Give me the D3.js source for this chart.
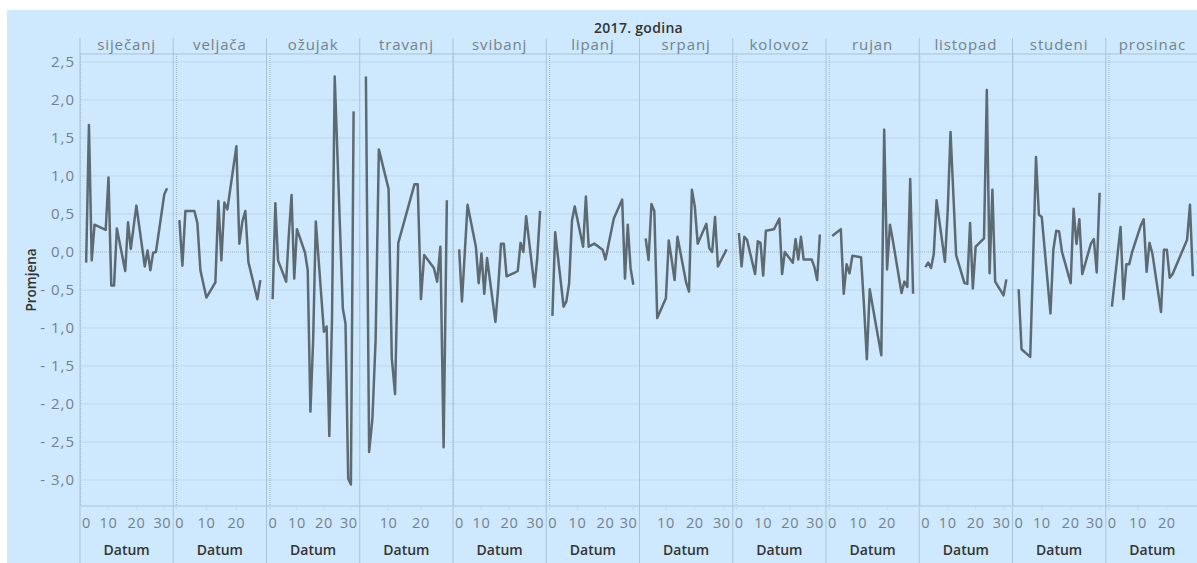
<!DOCTYPE html>
<html><head><meta charset="utf-8">
<script src="https://cdn.jsdelivr.net/npm/d3@7"></script>
<style>
html,body{margin:0;padding:0;background:#fff;}
svg{display:block;font-family:"Open Sans","Noto Sans",sans-serif;}
</style></head>
<body>
<script>
const months = ["siječanj","veljača","ožujak","travanj","svibanj","lipanj","srpanj","kolovoz","rujan","listopad","studeni","prosinac"];
const jan = {days:[2,3,4,5,9,10,11,12,13,16,17,18,19,20,23,24,25,26,27,30,31],
  vals:[-0.14,1.67,-0.11,0.36,0.29,0.98,-0.44,-0.44,0.31,-0.25,0.39,0.04,0.33,0.61,-0.19,0.02,-0.24,-0.01,0.0,0.76,0.84]};
const feb = {days:[1,2,3,6,7,8,9,10,13,14,15,16,17,20,21,22,23,24,27,28],
  vals:[0.42,-0.18,0.54,0.54,0.38,-0.24,-0.42,-0.60,-0.40,0.67,-0.11,0.65,0.56,1.39,0.11,0.40,0.54,-0.13,-0.62,-0.37]};
const mar = {days:[1,2,3,6,7,8,9,10,13,14,15,16,17,20,21,22,23,24,27,28,29,30,31],
  vals:[-0.62,0.64,-0.11,-0.39,0.23,0.75,-0.35,0.30,-0.01,-0.24,-2.10,-1.17,0.40,-1.05,-0.98,-2.42,-0.88,2.31,-0.74,-0.94,-2.98,-3.06,1.85]};
const apr = {days:[3,4,5,6,7,10,11,12,13,18,19,20,21,24,25,26,27,28],
  vals:[2.31,-2.63,-2.2,-1.16,1.35,0.83,-1.40,-1.87,0.12,0.89,0.89,-0.62,-0.04,-0.21,-0.39,0.07,-2.57,0.68]};
const may = {days:[2,3,4,5,8,9,10,11,12,15,16,17,18,19,22,23,24,25,26,29,30,31],
  vals:[0.035,-0.65,-0.02,0.62,0.07,-0.41,-0.02,-0.55,-0.08,-0.92,-0.46,0.11,0.11,-0.32,-0.27,-0.25,0.12,0.0,0.47,-0.46,-0.07,0.54]};
const jun = {days:[1,2,5,6,7,8,9,12,13,14,16,19,20,21,23,26,27,28,29,30],
  vals:[-0.84,0.26,-0.72,-0.65,-0.41,0.41,0.60,0.07,0.73,0.07,0.11,0.03,-0.10,0.08,0.44,0.69,-0.35,0.36,-0.21,-0.43]};
const jul = {days:[3,4,5,6,7,10,11,12,13,14,17,18,19,20,21,24,25,26,27,28,31],
  vals:[0.18,-0.105,0.63,0.54,-0.87,-0.61,0.15,-0.1,-0.37,0.20,-0.40,-0.52,0.82,0.60,0.11,0.37,0.05,0.0,0.46,-0.19,0.035]};
const aug = {days:[1,2,3,4,7,8,9,10,11,14,16,17,18,21,22,23,24,25,28,29,30,31],
  vals:[0.25,-0.19,0.20,0.16,-0.29,0.14,0.12,-0.31,0.28,0.30,0.44,-0.29,0.0,-0.14,0.17,-0.10,0.20,-0.10,-0.10,-0.20,-0.37,0.23]};
const sep = {days:[1,4,5,6,7,8,11,12,13,14,15,18,19,20,21,22,25,26,27,28,29],
  vals:[0.21,0.30,-0.55,-0.16,-0.28,-0.05,-0.07,-0.7,-1.41,-0.49,-0.71,-1.36,1.61,-0.23,0.36,0.15,-0.54,-0.39,-0.46,0.96,-0.55]};
const oct = {days:[2,3,4,5,6,9,10,11,12,13,16,17,18,19,20,23,24,25,26,27,30,31],
  vals:[-0.20,-0.14,-0.21,-0.03,0.68,-0.13,0.55,1.58,0.77,-0.04,-0.41,-0.42,0.38,-0.48,0.07,0.18,2.13,-0.28,0.82,-0.39,-0.57,-0.36]};
const nov = {days:[2,3,6,7,8,9,10,13,14,15,16,17,20,21,22,23,24,27,28,29,30],
  vals:[-0.49,-1.28,-1.38,-0.11,1.25,0.49,0.46,-0.81,0.03,0.28,0.27,0.0,-0.41,0.57,0.105,0.43,-0.29,0.11,0.17,-0.27,0.78]};
const dec = {days:[1,4,5,6,7,8,11,12,13,14,15,18,19,20,21,22,27,28,29],
  vals:[-0.72,0.33,-0.62,-0.16,-0.16,0.0,0.35,0.43,-0.26,0.12,-0.02,-0.79,0.03,0.03,-0.34,-0.29,0.16,0.62,-0.32]};
const series = [jan,feb,mar,apr,may,jun,jul,aug,sep,oct,nov,dec];
const yTicks = [2.5,2.0,1.5,1.0,0.5,0.0,-0.5,-1.0,-1.5,-2.0,-2.5,-3.0];
const xTicks = [0,10,20,30];
const title = "2017. godina";
const yTitle = "Promjena";
const xTitle = "Datum";

(function(){
const W = 1197, H = 563;
const pL = 80, pR = 1199, pT = 54, pB = 506, headTop = 38;
const pw = (pR-pL)/months.length;
const bgCol = "#cee9fd", gridCol = "#bcd9f0", sepCol = "#a9c3d7", grey = "#74818b", dark = "#333";

const svg = d3.select("body").append("svg").attr("width",W).attr("height",H);
svg.append("rect").attr("x",7).attr("y",10).attr("width",W-7).attr("height",H-10).attr("fill",bgCol);

const y = d3.scaleLinear().domain([-3.342,2.605]).range([pB,pT]);

svg.append("g").selectAll("line").data(yTicks.filter(v=>v!==0)).join("line")
  .attr("x1",pL).attr("x2",W).attr("y1",d=>y(d)).attr("y2",d=>y(d))
  .attr("stroke",gridCol).attr("stroke-width",1);
svg.append("line").attr("x1",pL).attr("x2",W).attr("y1",y(0)).attr("y2",y(0))
  .attr("stroke","#9fb6c8").attr("stroke-width",1).attr("stroke-dasharray","1,1");

const fmt = v => (v<0?"- ":"") + Math.abs(v).toFixed(1).replace(".",",");
svg.append("g").selectAll("text").data(yTicks).join("text")
  .attr("x",75).attr("y",d=>y(d)).attr("dy","0.35em").attr("text-anchor","end")
  .attr("font-size",15).attr("letter-spacing","1px").attr("fill",grey).text(fmt);

svg.append("text").attr("transform",`translate(31,${(pT+pB)/2}) rotate(-90)`)
  .attr("text-anchor","middle").attr("dy","0.35em").attr("font-size",13.5).attr("font-weight",600)
  .attr("fill",dark).text(yTitle);

svg.append("text").attr("x",(pL+pR)/2 - 1).attr("y",28).attr("dy","0.35em").attr("text-anchor","middle")
  .attr("font-size",14).attr("font-weight",600).attr("letter-spacing","0.3px").attr("fill",dark).text(title);

svg.append("line").attr("x1",pL).attr("x2",W).attr("y1",pT).attr("y2",pT).attr("stroke",sepCol);
svg.append("line").attr("x1",pL).attr("x2",W).attr("y1",pB).attr("y2",pB).attr("stroke",sepCol);

const line = d3.line();

months.forEach((m,i) => {
  const x0 = pL + i*pw, x1 = x0 + pw;
  const s = series[i];
  const mn = d3.min(s.days), mx = d3.max(s.days), pad = 0.076*(mx-mn);
  const x = d3.scaleLinear().domain([mn-pad, mx+pad]).range([x0,x1]);
  const g = svg.append("g");
  if (x.domain()[0] < 0) {
    g.append("line").attr("x1",x(0)).attr("x2",x(0)).attr("y1",pT).attr("y2",pB)
      .attr("stroke","#9fb6c8").attr("stroke-dasharray","1,1");
  }
  g.append("line").attr("x1",x0).attr("x2",x0).attr("y1",headTop).attr("y2",H).attr("stroke",sepCol);
  g.append("text").attr("x",(x0+x1)/2).attr("y",45).attr("dy","0.35em").attr("text-anchor","middle")
    .attr("font-size",15).attr("letter-spacing","0.9px").attr("fill",grey).text(m);
  const tks = xTicks.filter(t => t>=x.domain()[0] && x(t) <= x1 - 4.5);
  g.selectAll(".tk").data(tks).join("line").attr("class","tk")
    .attr("x1",d=>x(d)).attr("x2",d=>x(d)).attr("y1",pB).attr("y2",pB+4).attr("stroke",gridCol);
  g.selectAll(".tl").data(tks).join("text").attr("class","tl")
    .attr("y",523).attr("dy","0.35em").attr("text-anchor","middle").attr("font-size",14.5)
    .attr("letter-spacing","0.6px").attr("fill",grey).text(d=>d)
    .attr("x", function(d){ const w = this.getComputedTextLength(); return Math.max(x0+w/2+2, Math.min(x1-w/2-2, x(d))); });
  g.append("text").attr("x",(x0+x1)/2).attr("y",550).attr("dy","0.35em").attr("text-anchor","middle")
    .attr("font-size",14).attr("font-weight",600).attr("fill",dark).text(xTitle);
  const pts = s.days.map((d,k)=>[x(d), y(s.vals[k])]);
  g.append("path").attr("d",line(pts)).attr("fill","none").attr("stroke","#5e6a71")
    .attr("stroke-width",2.5).attr("stroke-linejoin","round");
});
})();
</script>
</body></html>
